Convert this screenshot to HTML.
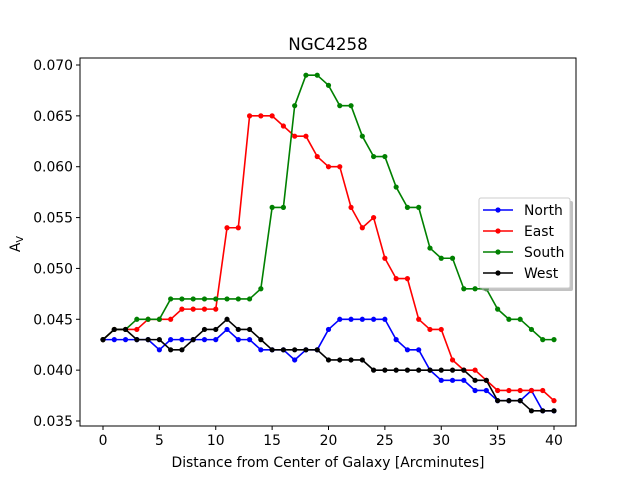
<!DOCTYPE html>
<html><head><meta charset="utf-8"><style>
body{margin:0;background:#fff;}
svg{display:block;font-family:"DejaVu Sans","Liberation Sans",sans-serif;}
</style></head><body>
<svg id="chart" width="640" height="480" xmlns="http://www.w3.org/2000/svg">
<rect width="640" height="480" fill="#fff"/>
<text x="328" y="50" font-size="16.7" text-anchor="middle">NGC4258</text>
<g id="plot"></g>
<rect x="80" y="58" width="496" height="368" fill="none" stroke="#000" stroke-width="1"/>
<text x="328" y="467" font-size="13.9" text-anchor="middle">Distance from Center of Galaxy [Arcminutes]</text>
<text transform="translate(20,244) rotate(-90)" font-size="13.9" text-anchor="middle">A<tspan font-size="9.7" dy="3">V</tspan></text>
<g>
<rect x="482" y="201" width="91" height="90" rx="2" fill="#999" opacity="0.6"/>
<rect x="479" y="198" width="91" height="90" rx="2" fill="#fff" stroke="#ccc"/>
</g>
</svg>
<script>
const xs = [];
for (let i = 0; i <= 40; i++) xs.push(i);
const north = [.043,.043,.043,.043,.043,.042,.043,.043,.043,.043,.043,.044,.043,.043,.042,.042,.042,.041,.042,.042,.044,.045,.045,.045,.045,.045,.043,.042,.042,.040,.039,.039,.039,.038,.038,.037,.037,.037,.038,.036,.036];
const east = [.043,.044,.044,.044,.045,.045,.045,.046,.046,.046,.046,.054,.054,.065,.065,.065,.064,.063,.063,.061,.060,.060,.056,.054,.055,.051,.049,.049,.045,.044,.044,.041,.040,.040,.039,.038,.038,.038,.038,.038,.037];
const south = [.043,.044,.044,.045,.045,.045,.047,.047,.047,.047,.047,.047,.047,.047,.048,.056,.056,.066,.069,.069,.068,.066,.066,.063,.061,.061,.058,.056,.056,.052,.051,.051,.048,.048,.048,.046,.045,.045,.044,.043,.043];
const west = [.043,.044,.044,.043,.043,.043,.042,.042,.043,.044,.044,.045,.044,.044,.043,.042,.042,.042,.042,.042,.041,.041,.041,.041,.040,.040,.040,.040,.040,.040,.040,.040,.040,.039,.039,.037,.037,.037,.036,.036,.036];
const xTicks = [0,5,10,15,20,25,30,35,40];
const yTicks = [0.035,0.040,0.045,0.050,0.055,0.060,0.065,0.070];
const seriesNames = ["North","East","South","West"];
const seriesColors = ["#0000ff","#ff0000","#008000","#000000"];
const seriesData = [north, east, south, west];

const NS = "http://www.w3.org/2000/svg";
const X = v => 103 + v * (554 - 103) / 40;
const Y = v => 421 - (v - 0.035) * (421 - 65) / 0.035;
const svg = document.getElementById('chart');
const plot = document.getElementById('plot');
function mk(tag, attrs, parent) {
  const e = document.createElementNS(NS, tag);
  for (const k in attrs) e.setAttribute(k, attrs[k]);
  (parent || plot).appendChild(e);
  return e;
}
xTicks.forEach(t => {
  const l = mk('line', {x1: X(t), x2: X(t), y1: 426, y2: 430, stroke: '#000'});
  
  
  const tx = mk('text', {x: X(t), y: 445, 'font-size': 13.9, 'text-anchor': 'middle'});
  tx.textContent = t;
  
  
});
yTicks.forEach(t => {
  const l = mk('line', {x1: 76, x2: 80, y1: Y(t), y2: Y(t), stroke: '#000'});
  
  
  const tx = mk('text', {x: 73, y: Y(t) + 5, 'font-size': 13.9, 'text-anchor': 'end'});
  tx.textContent = t.toFixed(3);
  
  
});
seriesData.forEach((d, si) => {
  const g = mk('g', {});
  
  
  const pts = d.map((v, i) => X(xs[i]) + ',' + Y(v)).join(' ');
  mk('polyline', {points: pts, fill: 'none', stroke: seriesColors[si], 'stroke-width': 1.6, 'stroke-linejoin': 'round'}, g);
  d.forEach((v, i) => {
    const c = mk('circle', {cx: X(xs[i]), cy: Y(v), r: 2.6, fill: seriesColors[si]}, g);
    
    
  });
  const ly = 210 + si * 21;
  const lg = mk('g', {}, svg);
  
  
  mk('line', {x1: 483, x2: 513, y1: ly, y2: ly, stroke: seriesColors[si], 'stroke-width': 1.6}, lg);
  mk('circle', {cx: 498, cy: ly, r: 2.6, fill: seriesColors[si]}, lg);
  const t = mk('text', {x: 524, y: ly + 5, 'font-size': 13.9}, lg);
  t.textContent = seriesNames[si];
});
</script>
</body></html>
